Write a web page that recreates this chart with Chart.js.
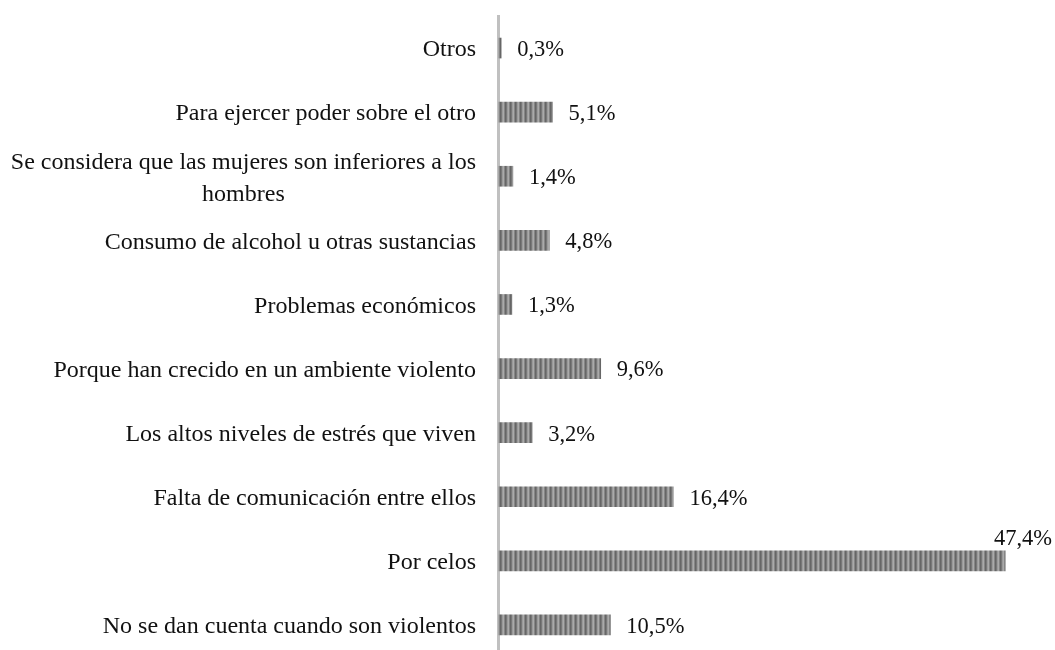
<!DOCTYPE html>
<html>
<head>
<meta charset="utf-8">
<script src="https://cdn.jsdelivr.net/npm/chart.js@4"></script>
<style>
    html, body { margin: 0; padding: 0; background: #fff; overflow: hidden; }
    #wrap { width: 1055px; height: 660px; }
</style>
</head>
<body>
<div id="wrap"><canvas id="causasChart" width="1055" height="660"></canvas></div>
<script>
// Categories (top to bottom) and percentages
const categorias = [
    'Otros',
    'Para ejercer poder sobre el otro',
    ['Se considera que las mujeres son inferiores a los', 'hombres'],
    'Consumo de alcohol u otras sustancias',
    'Problemas económicos',
    'Porque han crecido en un ambiente violento',
    'Los altos niveles de estrés que viven',
    'Falta de comunicación entre ellos',
    'Por celos',
    'No se dan cuenta cuando son violentos'
];
const porcentajes = [0.3, 5.1, 1.4, 4.8, 1.3, 9.6, 3.2, 16.4, 47.4, 10.5];

const CAT_FONT = '24px "Liberation Serif", "Times New Roman", serif';
const VAL_FONT = '22.5px "Liberation Serif", "Times New Roman", serif';

// Vertical stripe fill like the original bars
function stripePattern(ctx) {
    const c = document.createElement('canvas');
    c.width = 5;
    c.height = 1;
    const p = c.getContext('2d');
    const cols = ['#666666', '#787878', '#9a9a9a', '#aaaaaa', '#868686'];
    cols.forEach((col, i) => {
        p.fillStyle = col;
        p.fillRect(i, 0, 1, 1);
    });
    return ctx.createPattern(c, 'repeat');
}

// Category labels: right-aligned block, lines centered inside it
const categoryLabels = {
    id: 'categoryLabels',
    afterDraw(chart) {
        const ctx = chart.ctx;
        const y = chart.scales.y;
        const right = chart.chartArea.left - 22;
        const lineH = 32;
        ctx.save();
        ctx.font = CAT_FONT;
        ctx.fillStyle = '#111';
        ctx.textBaseline = 'middle';
        ctx.textAlign = 'center';
        categorias.forEach((lab, i) => {
            const lines = Array.isArray(lab) ? lab : [lab];
            const w = Math.max(...lines.map(l => ctx.measureText(l).width));
            const cy = y.getPixelForTick(i);
            const y0 = cy - (lines.length - 1) * lineH / 2 + 2;
            lines.forEach((l, k) => ctx.fillText(l, right - w / 2, y0 + k * lineH));
        });
        ctx.restore();
    }
};

// Value labels at the end of each bar
const valueLabels = {
    id: 'valueLabels',
    afterDatasetsDraw(chart) {
        const ctx = chart.ctx;
        const meta = chart.getDatasetMeta(0);
        ctx.save();
        ctx.font = VAL_FONT;
        ctx.fillStyle = '#111';
        ctx.textBaseline = 'middle';
        meta.data.forEach((bar, i) => {
            const txt = porcentajes[i].toFixed(1).replace('.', ',') + '%';
            const w = ctx.measureText(txt).width;
            let x = bar.x + 16;
            if (x + w > chart.width - 2) {
                ctx.textAlign = 'right';
                ctx.fillText(txt, chart.width - 3, bar.y - 22);
            } else {
                ctx.textAlign = 'left';
                ctx.fillText(txt, x, bar.y + 2);
            }
        });
        ctx.restore();
    }
};

const ctx = document.getElementById('causasChart').getContext('2d');
new Chart(ctx, {
    type: 'bar',
    data: {
        labels: categorias,
        datasets: [{
            data: porcentajes,
            backgroundColor: stripePattern(ctx),
            barThickness: 20,
            borderWidth: 0
        }]
    },
    options: {
        indexAxis: 'y',
        responsive: false,
        animation: false,
        layout: { padding: { left: 498, right: 22, top: 16, bottom: 3 } },
        plugins: {
            legend: { display: false },
            tooltip: { enabled: false }
        },
        scales: {
            x: {
                min: 0,
                max: 50,
                display: false
            },
            y: {
                ticks: { display: false },
                grid: { display: false },
                border: { display: true, color: '#c0c0c0', width: 3 },
                afterFit(scale) { scale.width = 0; }
            }
        }
    },
    plugins: [categoryLabels, valueLabels]
});
</script>
</body>
</html>
